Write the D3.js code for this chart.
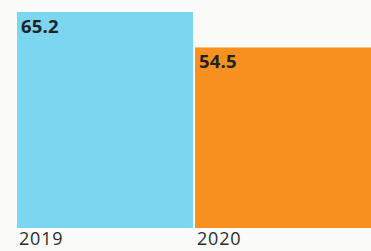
<!DOCTYPE html>
<html>
<head>
<meta charset="utf-8">
<script src="https://cdn.jsdelivr.net/npm/d3@7"></script>
<style>
  body { margin: 0; background: #fbfbf9; }
  svg { display: block; }
</style>
</head>
<body>
<div id="chart"></div>
<script>
var years = ["2019", "2020"];
var values = [65.2, 54.5];
var colors = ["#7dd6ef", "#f8911f"];

var width = 371, height = 251;
var baseY = 228;

var svg = d3.select("#chart").append("svg")
  .attr("width", width)
  .attr("height", height);

var x = d3.scaleBand()
  .domain(years)
  .range([17, 371])
  .paddingInner(0.0112);

var y = d3.scaleLinear()
  .domain([0, 65.2])
  .range([baseY, 12]);

var data = years.map(function(yr, i) { return {year: yr, value: values[i], color: colors[i]}; });

svg.selectAll("rect.bar")
  .data(data)
  .enter().append("rect")
  .attr("class", "bar")
  .attr("x", d => x(d.year))
  .attr("y", d => y(d.value))
  .attr("width", x.bandwidth())
  .attr("height", d => baseY - y(d.value))
  .attr("fill", d => d.color);

// value labels inside top-left of each bar
svg.selectAll("text.val")
  .data(data)
  .enter().append("text")
  .attr("class", "val")
  .attr("x", d => x(d.year) + 4)
  .attr("y", d => y(d.value) + 21)
  .attr("font-family", "Open Sans, sans-serif")
  .attr("font-weight", "bold")
  .attr("font-size", 18.5)
  .attr("letter-spacing", 0.2)
  .attr("fill", "#1f2326")
  .text(d => d.value);

// year labels under bars
svg.selectAll("text.yr")
  .data(data)
  .enter().append("text")
  .attr("class", "yr")
  .attr("x", d => x(d.year) + 2)
  .attr("y", 245)
  .attr("font-family", "Open Sans, sans-serif")
  .attr("font-size", 18)
  .attr("letter-spacing", 0.8)
  .attr("fill", "#2b2b2b")
  .text(d => d.year);
</script>
</body>
</html>
